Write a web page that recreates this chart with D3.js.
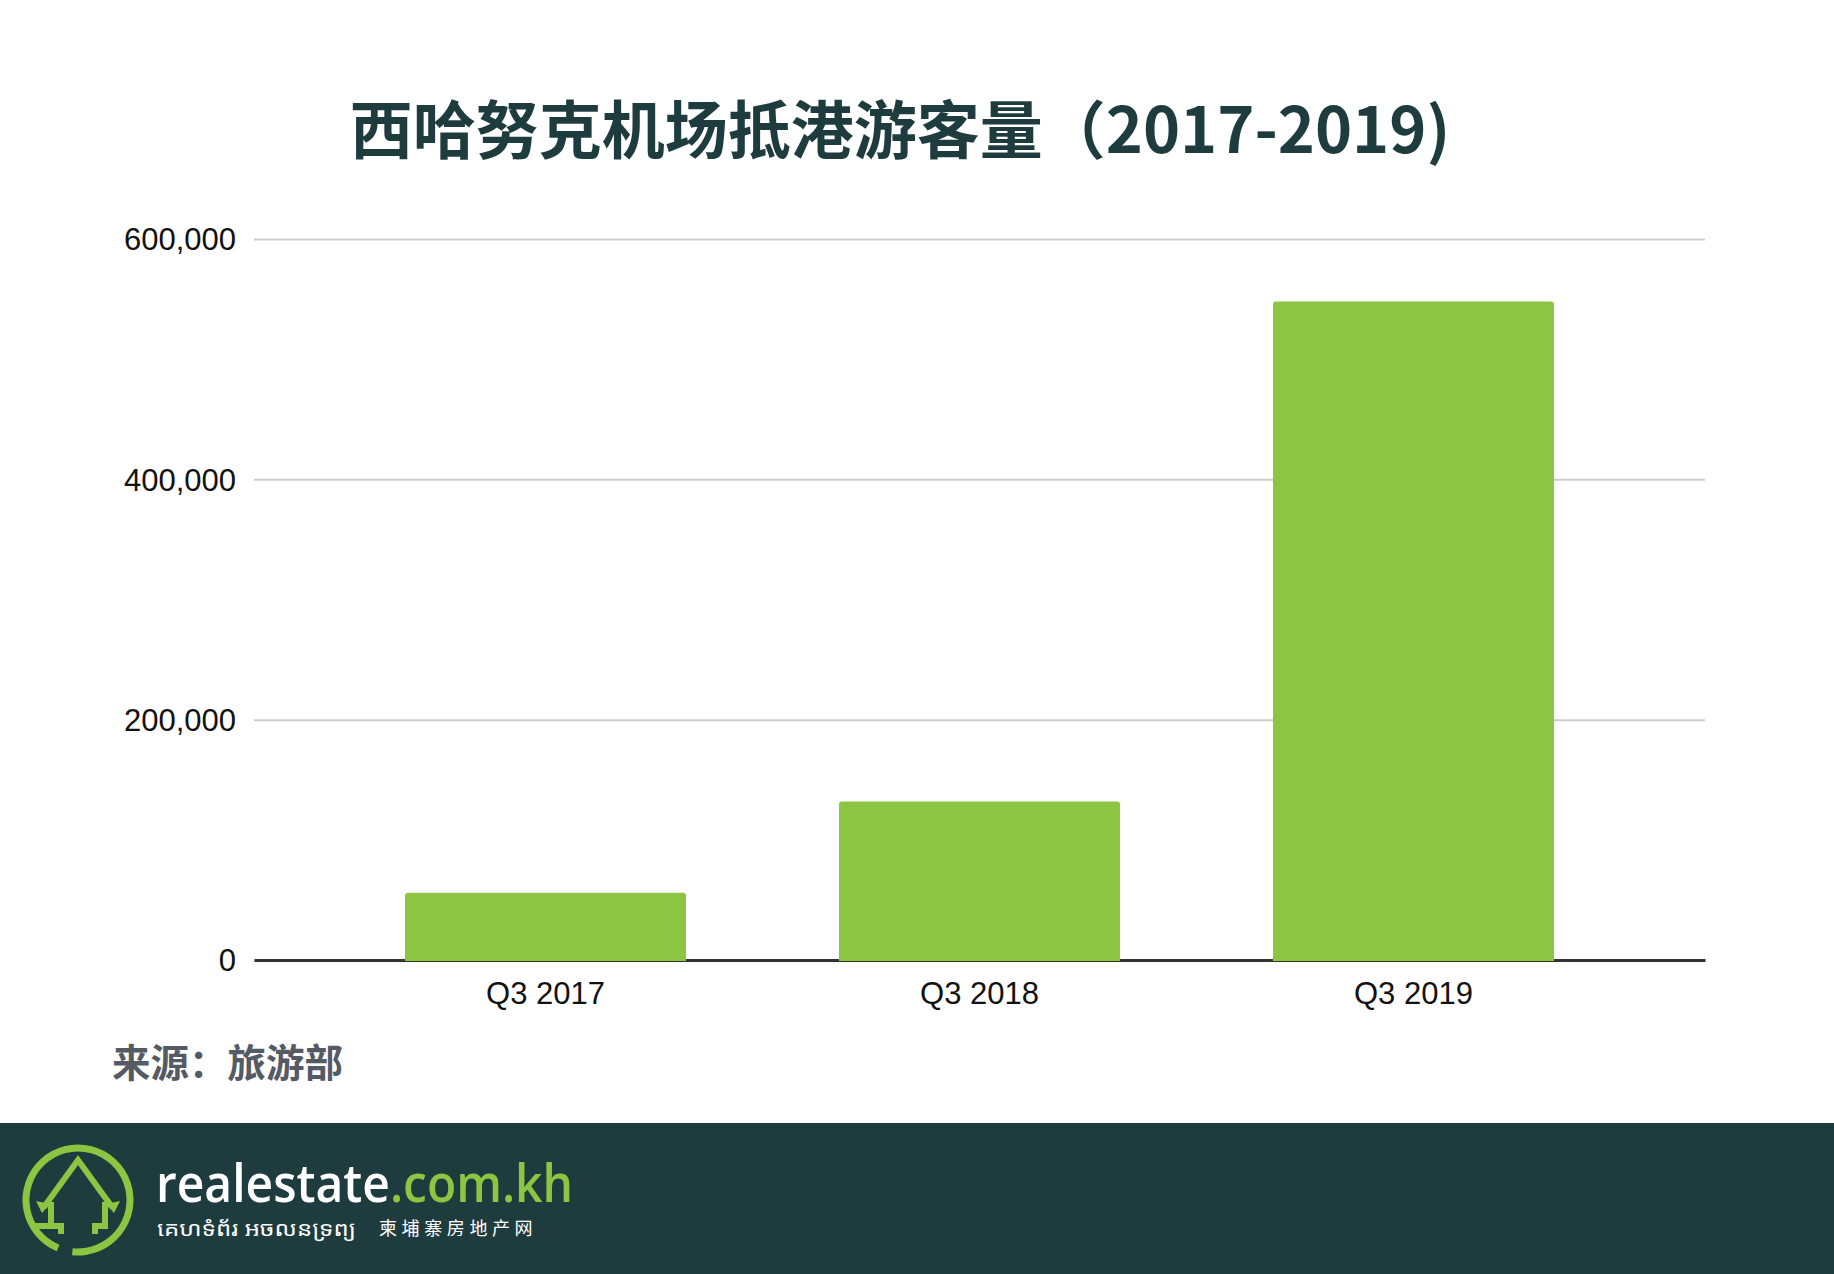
<!DOCTYPE html>
<html><head><meta charset="utf-8">
<script src="https://cdn.jsdelivr.net/npm/d3@7"></script>
<style>
html,body{margin:0;padding:0;background:#fff;}
svg{display:block;}
</style></head>
<body>
<script>
const categories = ["Q3 2017", "Q3 2018", "Q3 2019"];
const values = [56000, 132000, 548000];
const yTicks = [0, 200000, 400000, 600000];
const title = "西哈努克机场抵港游客量（2017-2019)";
const source = "来源：旅游部";

const W = 1834, H = 1274;
const svg = d3.select("body").append("svg").attr("width", W).attr("height", H);
svg.append("rect").attr("width", W).attr("height", H).attr("fill", "#fff");

const x0 = 254, x1 = 1705, yBase = 960, yTop = 239;
const x = d3.scaleBand().domain(categories).range([x0, x1]).paddingInner(0.3525).paddingOuter(0.348);
const y = d3.scaleLinear().domain([0, 600000]).range([yBase, yTop]);

// title
svg.append("text").attr("x", 900).attr("y", 153).attr("text-anchor", "middle")
  .attr("font-family", "'Noto Sans CJK SC', sans-serif").attr("font-weight", 700)
  .attr("font-size", 63).attr("fill", "#1e3c3e").text(title);

// grid
const yAxis = d3.axisLeft(y).tickValues(yTicks).tickSize(-(x1 - x0)).tickPadding(18)
  .tickFormat(d3.format(","));
const gy = svg.append("g").attr("transform", `translate(${x0},0)`).call(yAxis);
gy.select(".domain").remove();
gy.selectAll(".tick line").attr("stroke", "#cccccc").attr("stroke-width", 2);
gy.selectAll(".tick text").attr("font-family", "'Liberation Sans', Arial, sans-serif")
  .attr("font-size", 31).attr("fill", "#111").attr("dy", "0.35em");

// x axis (drawn beneath bars)
const xAxis = d3.axisBottom(x).tickSize(0).tickPadding(22);
const gx = svg.append("g").attr("transform", `translate(0,${yBase})`).call(xAxis);
gx.select(".domain").attr("stroke", "#333").attr("stroke-width", 3);
gx.selectAll(".tick text").attr("font-family", "'Liberation Sans', Arial, sans-serif")
  .attr("font-size", 31).attr("fill", "#111").attr("dy", "0.71em");

// bars
svg.append("g").selectAll("rect").data(values).join("rect")
  .attr("x", (d, i) => x(categories[i]))
  .attr("width", x.bandwidth())
  .attr("y", d => y(d))
  .attr("height", d => yBase + 1 - y(d))
  .attr("rx", 3).attr("ry", 3)
  .attr("fill", "#8bc541");
svg.append("g").selectAll("rect").data(values).join("rect")
  .attr("x", (d, i) => x(categories[i]))
  .attr("width", x.bandwidth())
  .attr("y", yBase - 6).attr("height", 7).attr("fill", "#8bc541");

// source
svg.append("text").attr("x", 112).attr("y", 1077)
  .attr("font-family", "'Noto Sans CJK SC', sans-serif").attr("font-weight", 700)
  .attr("font-size", 38.5).attr("fill", "#555b65").text(source);

// footer
const footerY = 1123;
svg.append("rect").attr("x", 0).attr("y", footerY).attr("width", W).attr("height", H - footerY).attr("fill", "#1e3c3e");

const green = "#8bc541";
const cx = 78, cy = 1200, r = 52;
svg.append("path").attr("transform", `translate(${cx},${cy})`)
  .attr("d", d3.arc()({innerRadius: r - 3.5, outerRadius: r + 3.5, startAngle: -2.75, endAngle: 3.25}))
  .attr("fill", green);
const house = d3.path();
house.moveTo(cx - 34, cy + 7); house.lineTo(cx, cy - 40); house.lineTo(cx + 34, cy + 7);
svg.append("path").attr("d", house.toString()).attr("fill", "none").attr("stroke", green).attr("stroke-width", 6).attr("stroke-linejoin", "miter");
svg.append("path").attr("d", `M${cx-42},${cy+1} L${cx-36},${cy+13} L${cx-28},${cy+4}Z M${cx+42},${cy+1} L${cx+36},${cy+13} L${cx+28},${cy+4}Z`).attr("fill", green);
svg.append("path").attr("d", `M${cx-27},${cy+2} L${cx-27},${cy+26} L${cx-17},${cy+26} L${cx-17},${cy+34} M${cx+27},${cy+2} L${cx+27},${cy+26} L${cx+17},${cy+26} L${cx+17},${cy+34}`)
  .attr("fill", "none").attr("stroke", green).attr("stroke-width", 6);
svg.append("path").attr("d", `M${cx-46},${cy+26} L${cx-30},${cy+26}`).attr("stroke", green).attr("stroke-width", 6);

const brand = svg.append("text").attr("x", 156).attr("y", 1202)
  .attr("font-family", "'Open Sans', sans-serif").attr("font-weight", 600)
  .attr("font-size", 52).attr("textLength", 417).attr("lengthAdjust", "spacingAndGlyphs");
brand.append("tspan").attr("fill", "#fff").text("realestate");
brand.append("tspan").attr("fill", green).text(".com.kh");

svg.append("text").attr("x", 157).attr("y", 1236)
  .attr("font-family", "'Noto Sans Khmer', 'Noto Sans', sans-serif")
  .attr("font-size", 21).attr("fill", "#fff")
  .attr("textLength", 199).attr("lengthAdjust", "spacingAndGlyphs").text("គេហទំព័រ អចលនទ្រព្យ");
svg.append("text").attr("x", 379).attr("y", 1235)
  .attr("font-family", "'Noto Sans CJK SC', sans-serif").attr("letter-spacing", 4.6)
  .attr("font-size", 18).attr("fill", "#fff").text("柬埔寨房地产网");
</script>
</body></html>
